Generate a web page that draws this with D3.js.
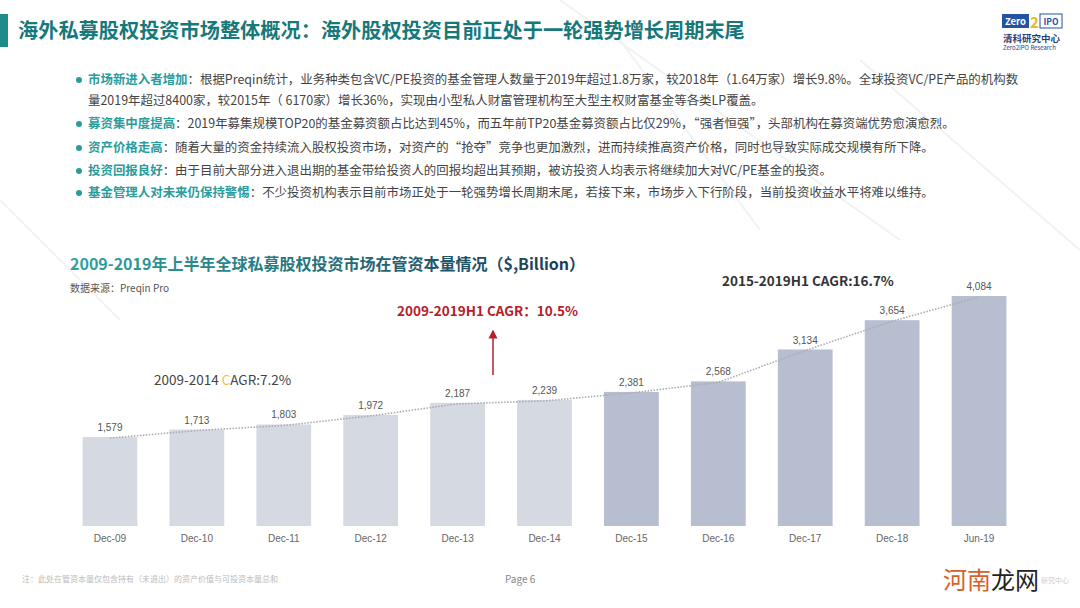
<!DOCTYPE html>
<html>
<head>
<meta charset="utf-8">
<script src="https://cdn.jsdelivr.net/npm/d3@7"></script>
<style>
  body { margin: 0; background: #fff; }
  svg { display: block; font-family: "Noto Sans CJK SC", "Noto Sans", sans-serif; }
</style>
</head>
<body>
<script>
// chart data
var categories = ["Dec-09", "Dec-10", "Dec-11", "Dec-12", "Dec-13", "Dec-14",
                  "Dec-15", "Dec-16", "Dec-17", "Dec-18", "Jun-19"];
var aum = [1579, 1713, 1803, 1972, 2187, 2239, 2381, 2568, 3134, 3654, 4084];
// first six bars are the 2009-2014 period (lighter)
var period = ["a", "a", "a", "a", "a", "a", "b", "b", "b", "b", "b"];

var bulletKeys = ["市场新进入者增加", "募资集中度提高", "资产价格走高", "投资回报良好", "基金管理人对未来仍保持警惕"];
var bulletLines = [
  ["：根据Preqin统计，业务种类包含VC/PE投资的基金管理人数量于2019年超过1.8万家，较2018年（1.64万家）增长9.8%。全球投资VC/PE产品的机构数",
   "量2019年超过8400家，较2015年（ 6170家）增长36%，实现由小型私人财富管理机构至大型主权财富基金等各类LP覆盖。"],
  ["：2019年募集规模TOP20的基金募资额占比达到45%，而五年前TP20基金募资额占比仅29%，“强者恒强”，头部机构在募资端优势愈演愈烈。"],
  ["：随着大量的资金持续流入股权投资市场，对资产的“抢夺”竞争也更加激烈，进而持续推高资产价格，同时也导致实际成交规模有所下降。"],
  ["：由于目前大部分进入退出期的基金带给投资人的回报均超出其预期，被访投资人均表示将继续加大对VC/PE基金的投资。"],
  ["：不少投资机构表示目前市场正处于一轮强势增长周期末尾，若接下来，市场步入下行阶段，当前投资收益水平将难以维持。"]
];

var W = 1080, H = 608;
var svg = d3.select("body").append("svg")
    .attr("width", W)
    .attr("height", H);

var defs = svg.append("defs");
var grad = defs.append("linearGradient").attr("id", "titleGrad");
grad.append("stop").attr("offset", "0%").attr("stop-color", "#2fa39f");
grad.append("stop").attr("offset", "100%").attr("stop-color", "#1c3a55");

defs.append("marker")
    .attr("id", "arrow")
    .attr("viewBox", "0 0 10 10")
    .attr("refX", 5).attr("refY", 5)
    .attr("markerWidth", 6).attr("markerHeight", 7)
    .attr("orient", "auto")
  .append("path")
    .attr("d", "M0,0 L10,5 L0,10 z")
    .attr("fill", "#b3202b");

// faint background lines
[[560, 0, 900, 240], [860, 60, 1080, 250], [0, 200, 120, 320], [620, 40, 760, 230]].forEach(function(l) {
  svg.append("line")
      .attr("x1", l[0]).attr("y1", l[1]).attr("x2", l[2]).attr("y2", l[3])
      .style("stroke", "#f1f2f3").style("stroke-width", 2);
});

// header
svg.append("rect").attr("x", 0).attr("y", 14).attr("width", 8).attr("height", 33).attr("fill", "#1d8c8a");
svg.append("text")
    .attr("x", 18).attr("y", 38)
    .style("font-size", "20.2px").style("font-weight", "bold")
    .style("fill", "#17787a")
    .text("海外私募股权投资市场整体概况：海外股权投资目前正处于一轮强势增长周期末尾");

// logo
var logo = svg.append("g");
logo.append("rect").attr("x", 1002).attr("y", 14).attr("width", 27).attr("height", 14).attr("fill", "#2353a3");
logo.append("text").attr("x", 1015.5).attr("y", 25).attr("text-anchor", "middle")
    .style("font-size", "9.5px").style("font-weight", "bold").style("fill", "#fff").text("Zero");
logo.append("rect").attr("x", 1040).attr("y", 14).attr("width", 22).attr("height", 14)
    .attr("fill", "#fff").attr("stroke", "#2353a3");
logo.append("text").attr("x", 1051).attr("y", 25).attr("text-anchor", "middle")
    .style("font-size", "8.5px").style("font-weight", "bold").style("fill", "#2353a3").text("IPO");
logo.append("text").attr("x", 1034.5).attr("y", 28).attr("text-anchor", "middle")
    .style("font-size", "15px").style("font-weight", "bold").style("fill", "#e7b728").text("2");
logo.append("text").attr("x", 1003).attr("y", 42)
    .style("font-size", "9.5px").style("font-weight", "bold").style("fill", "#1e3f7a").text("清科研究中心");
logo.append("text").attr("x", 1003).attr("y", 50)
    .style("font-size", "6px").style("fill", "#1e3f7a").text("Zero2IPO Research");

// bullets
var lineY = [[84, 105], [128], [152], [175], [197]];
bulletKeys.forEach(function(k, i) {
  svg.append("circle").attr("cx", 79).attr("cy", lineY[i][0] - 4).attr("r", 3).attr("fill", "#2a9c9c");
  bulletLines[i].forEach(function(t, j) {
    var tx = svg.append("text")
        .attr("x", 88).attr("y", lineY[i][j])
        .style("font-size", "12.45px").style("fill", "#444");
    if (j == 0) {
      tx.append("tspan").style("fill", "#2a9c9c").style("font-weight", "bold").text(k);
    }
    tx.append("tspan").text(t);
  });
});

// chart title
svg.append("text")
    .attr("x", 70).attr("y", 270)
    .style("font-size", "16px").style("font-weight", "bold")
    .style("fill", "url(#titleGrad)")
    .text("2009-2019年上半年全球私募股权投资市场在管资本量情况（$,Billion）");
svg.append("text")
    .attr("x", 70).attr("y", 292)
    .style("font-size", "10px").style("fill", "#555")
    .text("数据来源：Preqin Pro");

// scales
var x = d3.scaleBand()
    .domain(categories)
    .range([66.5, 1022.5])
    .paddingInner(0.37)
    .paddingOuter(0.185);
var y = d3.scaleLinear()
    .domain([0, d3.max(aum)])
    .range([526, 296]);

var data = categories.map(function(c, i) { return {cat: c, v: aum[i], p: period[i]}; });

// bars
svg.selectAll(".bar")
    .data(data)
  .enter().append("rect")
    .attr("class", "bar")
    .attr("x", function(d) { return x(d.cat); })
    .attr("y", function(d) { return y(d.v); })
    .attr("width", x.bandwidth())
    .attr("height", function(d) { return y(0) - y(d.v); })
    .attr("fill", function(d) { return d.p == "a" ? "#d5d9e1" : "#b6bed0"; });

// dotted trend line through bar tops
var trend = d3.line()
    .x(function(d) { return x(d.cat) + x.bandwidth() / 2; })
    .y(function(d) { return y(d.v) + 1; });
svg.append("path")
    .datum(data)
    .attr("d", trend)
    .style("fill", "none")
    .style("stroke", "#a9acb2")
    .style("stroke-width", 1.6)
    .style("stroke-dasharray", "1.5,1.5");

// value labels
svg.selectAll(".val")
    .data(data)
  .enter().append("text")
    .attr("class", "val")
    .attr("x", function(d) { return x(d.cat) + x.bandwidth() / 2; })
    .attr("y", function(d) { return y(d.v) - 6; })
    .attr("text-anchor", "middle")
    .style("font-size", "10px")
    .style("fill", "#555")
    .style("font-family", "Liberation Sans, Arial, sans-serif")
    .text(function(d) { return d3.format(",")(d.v); });

// x axis
var xAxis = svg.append("g")
    .attr("transform", "translate(0," + y(0) + ")")
    .call(d3.axisBottom(x).tickSize(0).tickPadding(9));
xAxis.select(".domain").remove();
xAxis.selectAll("text")
    .style("font-size", "10px")
    .style("fill", "#666")
    .style("font-family", "Liberation Sans, Arial, sans-serif");

// annotations
svg.append("text")
    .attr("x", 397).attr("y", 316)
    .style("font-size", "13.5px").style("font-weight", "bold").style("fill", "#b3202b")
    .text("2009-2019H1 CAGR：10.5%");
svg.append("line")
    .attr("x1", 493).attr("y1", 375).attr("x2", 493).attr("y2", 334)
    .style("stroke", "#b3202b").style("stroke-width", 1.5)
    .attr("marker-end", "url(#arrow)");

var c1 = svg.append("text")
    .attr("x", 154).attr("y", 385)
    .style("font-size", "13.5px").style("fill", "#444");
c1.append("tspan").text("2009-2014 ");
c1.append("tspan").style("fill", "#f0c23a").text("C");
c1.append("tspan").text("AGR:7.2%");

svg.append("text")
    .attr("x", 722).attr("y", 286)
    .style("font-size", "13.5px").style("font-weight", "bold").style("fill", "#333")
    .text("2015-2019H1 CAGR:16.7%");

// footer
svg.append("text")
    .attr("x", 22).attr("y", 582)
    .style("font-size", "8px").style("fill", "#bbb")
    .text("注：此处在管资本量仅包含持有（未退出）的资产价值与可投资本量总和");
svg.append("text")
    .attr("x", 505).attr("y", 583)
    .style("font-size", "10px").style("fill", "#888")
    .text("Page  6");
var wm = svg.append("text")
    .attr("x", 943).attr("y", 589)
    .style("font-size", "24px");
wm.append("tspan").style("fill", "#d4622a").text("河南");
wm.append("tspan").style("fill", "#222").text("龙网");
svg.append("text")
    .attr("x", 1041).attr("y", 583)
    .style("font-size", "7px").style("fill", "#ccc")
    .text("研究中心");
</script>
</body>
</html>
